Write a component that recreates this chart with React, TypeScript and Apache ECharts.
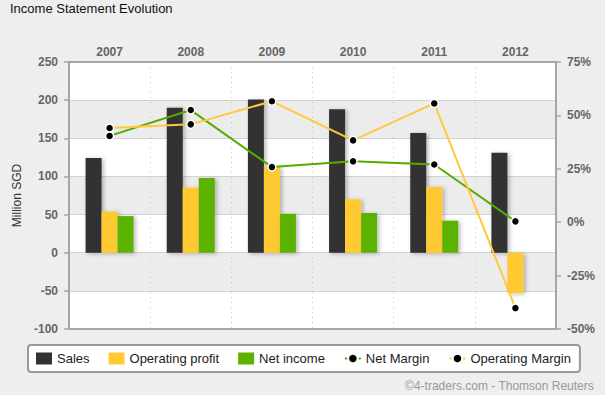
import React, { useEffect, useRef } from "react";
import * as echarts from "echarts";

const years = ["2007", "2008", "2009", "2010", "2011", "2012"];
const sales = [124, 190, 201, 188, 157, 131];
const operatingProfit = [54, 85, 113, 70, 86, -53];
const netIncome: (number | null)[] = [48, 98, 51, 52, 42, null];
const netMargin = [40.4, 52.5, 25.8, 28.5, 27.0, 0.4];
const operatingMargin = [44.1, 45.8, 56.6, 38.3, 55.6, -40.2];
const leftTicks = { min: -100, max: 250, interval: 50 };
const rightTicks = { min: -50, max: 75, interval: 25 };

const FONT = '"Liberation Sans", Arial, sans-serif';

export default function App() {
  const ref = useRef<HTMLDivElement>(null);
  useEffect(() => {
    document.body.style.margin = "0";
    if (!ref.current) return;
    const chart = echarts.init(ref.current, undefined, { renderer: "svg" });
    const axisGray = "#a6a6a6";
    const barShadow = {
      shadowColor: "rgba(0,0,0,0.28)",
      shadowBlur: 4,
      shadowOffsetX: 2,
      shadowOffsetY: 1,
    };
    const symbolStyle = { color: "#000", borderColor: "#fff", borderWidth: 1.5 };
    chart.setOption({
      animation: false,
      backgroundColor: "#eeeeee",
      textStyle: { fontFamily: FONT },
      title: {
        text: "Income Statement Evolution",
        left: 10,
        top: 2,
        padding: 0,
        textStyle: { fontSize: 13, fontWeight: "normal", color: "#111", fontFamily: FONT },
      },
      graphic: [
        {
          type: "text",
          right: 11,
          top: 380,
          style: { text: "©4-traders.com - Thomson Reuters", fill: "#999", font: `12px ${FONT}` },
        },
      ],
      legend: {
        left: 28,
        top: 345,
        padding: [7, 9, 7, 8],
        itemWidth: 16,
        itemHeight: 12,
        itemGap: 19,
        backgroundColor: "#fff",
        borderColor: "#999",
        borderWidth: 2,
        borderRadius: 3,
        textStyle: { fontSize: 13, color: "#222", fontFamily: FONT },
        data: [
          { name: "Sales", icon: "rect" },
          { name: "Operating profit", icon: "rect" },
          { name: "Net income", icon: "rect" },
          {
            name: "Net Margin",
            lineStyle: { color: "#57aa00", width: 2 },
            itemStyle: { color: "#000", borderColor: "#fff", borderWidth: 2 },
          },
          {
            name: "Operating Margin",
            lineStyle: { color: "#ffc83d", width: 2 },
            itemStyle: { color: "#000", borderColor: "#fff", borderWidth: 2 },
          },
        ],
      },
      grid: { left: 69, right: 49, top: 62, bottom: 66 },
      xAxis: [
        {
          type: "category",
          data: years,
          position: "bottom",
          axisLabel: { show: false },
          axisLine: { onZero: false, lineStyle: { color: axisGray, width: 2 } },
          axisTick: { length: 4, lineStyle: { color: axisGray, width: 1.5 } },
          splitLine: { show: true, lineStyle: { color: "#c8c8c8", type: [1, 4], width: 1 } },
        },
        {
          type: "category",
          data: years,
          position: "top",
          axisLabel: { color: "#666", fontWeight: "bold", fontSize: 12, margin: 4, fontFamily: FONT },
          axisLine: { show: true, onZero: false, lineStyle: { color: axisGray, width: 2 } },
          axisTick: { show: false },
          splitLine: { show: false },
        },
      ],
      yAxis: [
        {
          type: "value",
          ...leftTicks,
          name: "Million SGD",
          nameLocation: "middle",
          nameGap: 43,
          nameTextStyle: { color: "#333", fontSize: 12, fontFamily: FONT },
          axisLabel: { color: "#666", fontWeight: "bold", fontSize: 12, margin: 11, fontFamily: FONT },
          axisLine: { show: true, onZero: false, lineStyle: { color: axisGray, width: 2 } },
          axisTick: { show: true, length: 5, lineStyle: { color: axisGray, width: 1.5 } },
          splitLine: { lineStyle: { color: "#d2d2d2", width: 1 } },
          splitArea: { show: true, areaStyle: { color: ["#ffffff", "#ececec"] } },
        },
        {
          type: "value",
          ...rightTicks,
          position: "right",
          axisLabel: {
            color: "#666",
            fontWeight: "bold",
            fontSize: 12,
            margin: 11,
            formatter: "{value}%",
            fontFamily: FONT,
          },
          axisLine: { show: true, onZero: false, lineStyle: { color: axisGray, width: 2 } },
          axisTick: { show: true, length: 5, lineStyle: { color: axisGray, width: 1.5 } },
          splitLine: { show: false },
        },
      ],
      series: [
        {
          name: "Sales",
          type: "bar",
          data: sales,
          barWidth: 16,
          barGap: "0%",
          itemStyle: { color: "#333333", ...barShadow },
        },
        {
          name: "Operating profit",
          type: "bar",
          data: operatingProfit,
          barWidth: 16,
          barGap: "0%",
          itemStyle: { color: "#ffc933", ...barShadow },
        },
        {
          name: "Net income",
          type: "bar",
          data: netIncome,
          barWidth: 16,
          barGap: "0%",
          itemStyle: { color: "#5bb200", ...barShadow },
        },
        {
          name: "Net Margin",
          type: "line",
          yAxisIndex: 1,
          data: netMargin,
          symbol: "circle",
          symbolSize: 8,
          z: 3,
          lineStyle: { color: "#57aa00", width: 2 },
          itemStyle: symbolStyle,
        },
        {
          name: "Operating Margin",
          type: "line",
          yAxisIndex: 1,
          data: operatingMargin,
          symbol: "circle",
          symbolSize: 8,
          z: 4,
          lineStyle: { color: "#ffc83d", width: 2 },
          itemStyle: symbolStyle,
        },
      ],
    });
    return () => chart.dispose();
  }, []);
  return (
    <div
      ref={ref}
      style={{ position: "fixed", left: 0, top: 0, width: 605, height: 395 }}
    />
  );
}
